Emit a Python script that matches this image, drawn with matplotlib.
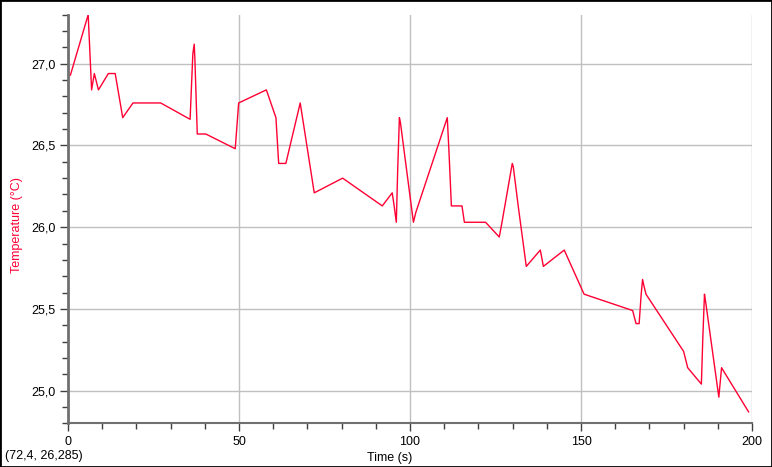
import matplotlib.pyplot as plt
from matplotlib.ticker import MultipleLocator, FuncFormatter
from matplotlib.patches import Rectangle

# time (s) and temperature (degC)
time_s = [0, 0.7, 5.9, 6.4, 6.9, 7.7, 8.9, 11.8, 13.8, 16.0, 19.0, 27.1,
          35.7, 36.5, 36.9, 37.1, 37.8, 40.3, 48.9, 49.9, 58.0, 60.8, 61.6,
          63.7, 67.9, 72.0, 80.3, 91.9, 94.8, 95.3, 96.0, 96.4, 96.9, 97.2,
          101.0, 101.7, 110.9, 111.4, 112.1, 115.2, 115.9, 122.1, 126.1,
          126.9, 129.9, 130.2, 131.7, 134.0, 138.1, 139.0, 145.1, 150.9,
          165.1, 166.1, 167.0, 167.6, 168.0, 168.3, 169.0, 180.0, 181.2,
          185.2, 185.6, 186.1, 186.4, 190.3, 190.7, 191.1, 199.0]
temp_c = [26.93, 26.93, 27.30, 27.07, 26.84, 26.94, 26.84, 26.94, 26.94,
          26.67, 26.76, 26.76, 26.66, 27.06, 27.12, 27.03, 26.57, 26.57,
          26.48, 26.76, 26.84, 26.67, 26.39, 26.39, 26.76, 26.21, 26.30,
          26.13, 26.21, 26.14, 26.03, 26.35, 26.67, 26.64, 26.03, 26.09,
          26.67, 26.46, 26.13, 26.13, 26.03, 26.03, 25.94, 26.03, 26.39,
          26.37, 26.12, 25.76, 25.86, 25.76, 25.86, 25.59, 25.49, 25.41,
          25.41, 25.59, 25.68, 25.65, 25.59, 25.24, 25.14, 25.04, 25.31,
          25.59, 25.55, 24.96, 25.05, 25.14, 24.87]

red = '#ff0033'
plt.rcParams['font.family'] = ['Liberation Sans', 'DejaVu Sans']

fig = plt.figure(figsize=(7.72, 4.67), dpi=100)
ax = fig.add_axes([68 / 772, 1 - 423.3 / 467, (752 - 68) / 772, (423.3 - 14.7) / 467])

ax.plot(time_s, temp_c, color=red, lw=1.0)
ax.set_xlim(0, 200)
ax.set_ylim(24.8, 27.3)

ax.xaxis.set_major_locator(MultipleLocator(50))
ax.xaxis.set_minor_locator(MultipleLocator(10))
ax.yaxis.set_major_locator(MultipleLocator(0.5))
ax.yaxis.set_minor_locator(MultipleLocator(0.1))
ax.yaxis.set_major_formatter(FuncFormatter(lambda v, p: ('%.1f' % v).replace('.', ',')))
ax.grid(True, which='major', color='#c0c0c0', lw=1)
ax.set_axisbelow(True)

ax.tick_params(which='major', length=6, width=1, color='#404040', labelsize=9, pad=3)
ax.tick_params(which='minor', length=4, width=1, color='#404040')

for s in ['top', 'right']:
    ax.spines[s].set_visible(False)
ax.spines['left'].set_color('#707070')
ax.spines['left'].set_linewidth(2)
ax.spines['bottom'].set_color('#707070')
ax.spines['bottom'].set_linewidth(1.5)

fig.text(17 / 772, 1 - 225 / 467, 'Temperature (°C)', rotation=90, color=red,
         fontsize=9, ha='center', va='center')
fig.text(390 / 772, 1 - 458 / 467, 'Time (s)', fontsize=9, ha='center', va='center')
fig.text(5 / 772, 1 - 456 / 467, '(72,4, 26,285)', fontsize=9, ha='left', va='center')

fig.patches.append(Rectangle((0, 0), 1, 1, transform=fig.transFigure, fill=False,
                             ec='black', lw=2))

fig.savefig('out.png', dpi=100)
